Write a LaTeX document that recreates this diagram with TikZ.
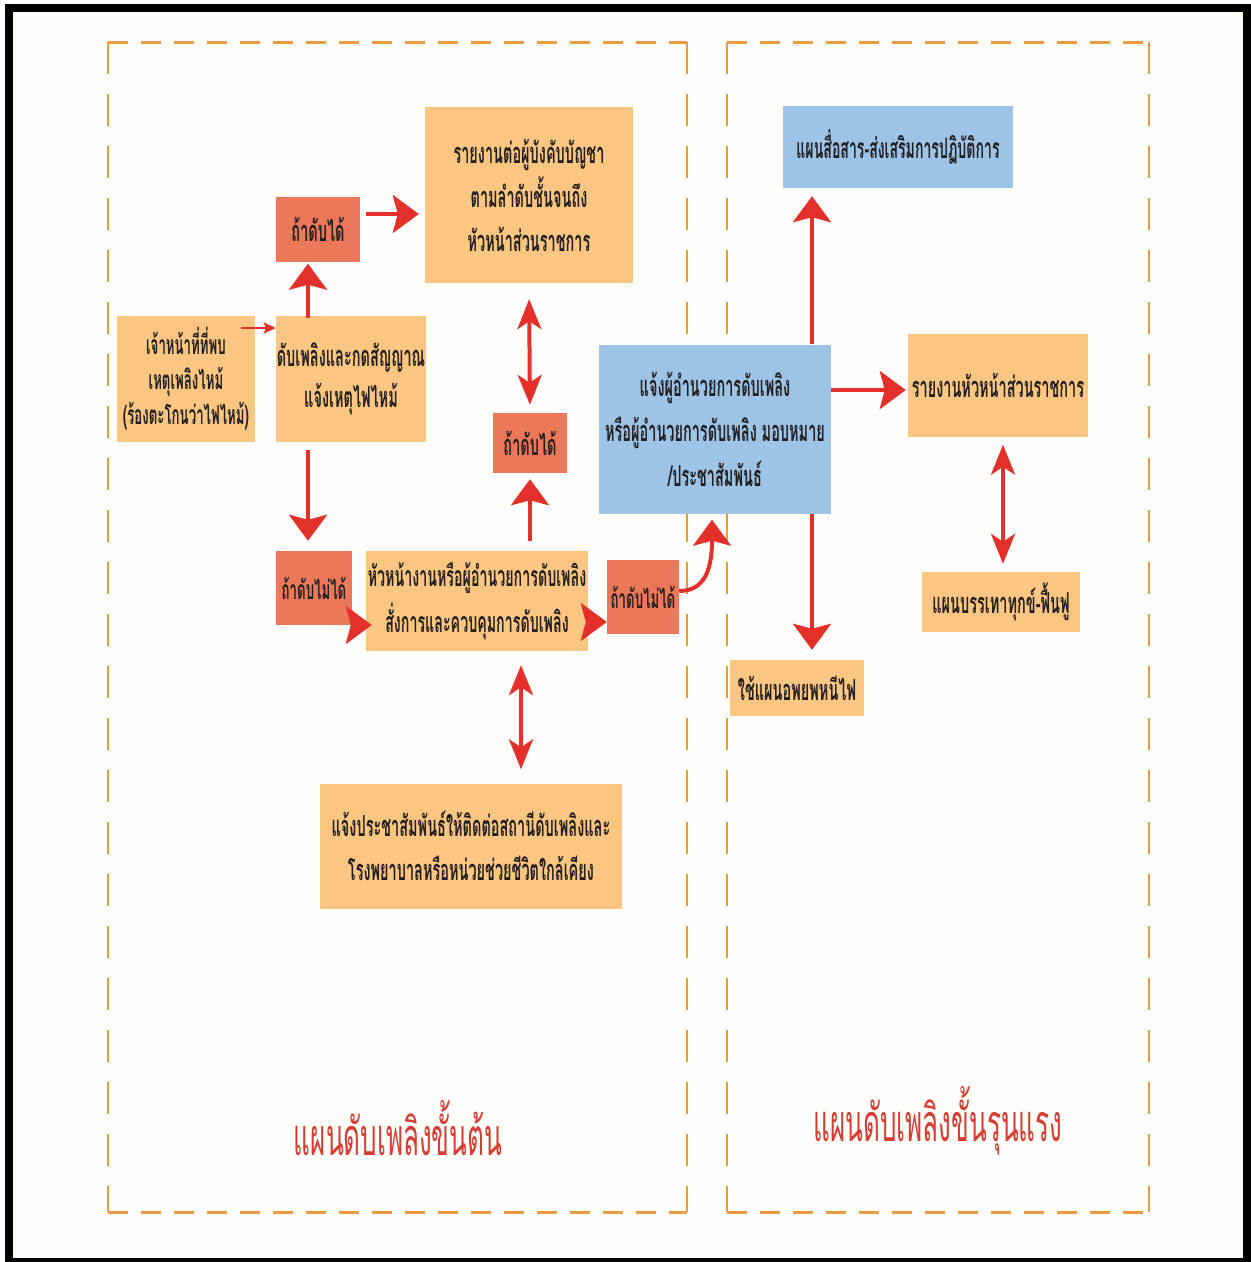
\documentclass[tikz,border=0pt]{standalone}
\usepackage{fontspec}
\newfontfamily\thai[Script=Thai,FakeStretch=0.5]{Loma}
\newcommand{\tf}[2]{\thai\bfseries\fontsize{#1}{#2}\selectfont}
\usetikzlibrary{arrows.meta}
\definecolor{boxor}{HTML}{FBC681}
\definecolor{boxred}{HTML}{EC785A}
\definecolor{boxblue}{HTML}{9DC3E6}
\definecolor{arrred}{HTML}{E3302A}
\definecolor{dashor}{HTML}{E99A43}
\definecolor{titred}{HTML}{D63C32}
\definecolor{txt}{HTML}{231F20}
\definecolor{paper}{HTML}{FFFEFA}
\tikzset{
  bx/.style={fill=boxor, inner sep=0pt, align=center, text=txt,
    font=\tf{29}{44}},
  rbx/.style={bx, fill=boxred},
  bbx/.style={bx, fill=boxblue},
  arr/.style={draw=arrred, line width=4pt,
    -{Stealth[length=26pt, width=38pt, inset=5pt]}},
  darr/.style={draw=arrred, line width=4pt,
    {Stealth[length=30pt, width=24pt, inset=8pt]}-{Stealth[length=30pt, width=24pt, inset=8pt]}},
  tarr/.style={draw=arrred, line width=2pt,
    -{Stealth[length=12pt, width=11pt, inset=2pt]}},
  hdash/.style={draw=dashor, line width=3pt, dash pattern=on 20pt off 13pt},
  vdash/.style={draw=dashor, line width=2.5pt, dash pattern=on 32pt off 20pt},
  title/.style={text=titred, font=\thai\fontsize{52}{58}\selectfont}
}
\begin{document}
\begin{tikzpicture}[x=1pt,y=-1pt]
\useasboundingbox (0,0) rectangle (1251,1262);
\fill[white] (0,0) rectangle (1251,1262);
\fill[black] (5,4) rectangle (1251,1262);
\fill[paper] (13,12) rectangle (1243,1258);

% dashed frames
\draw[hdash] (108,42) -- (687,42);
\draw[hdash] (108,1212) -- (687,1212);
\draw[vdash] (108,42) -- (108,1212);
\draw[vdash] (687,42) -- (687,1212);
\draw[hdash] (727,42) -- (1149,42);
\draw[hdash] (727,1212) -- (1149,1212);
\draw[vdash] (727,42) -- (727,1212);
\draw[vdash] (1149,42) -- (1149,1212);

% nodes
\node[bx, minimum width=138pt, minimum height=126pt, font=\tf{26.5}{35}] (A) at (186,379)
  {เจ้าหน้าที่ที่พบ\\เหตุเพลิงไหม้\\(ร้องตะโกนว่าไฟไหม้)};
\node[bx, minimum width=150pt, minimum height=126pt, font=\tf{29}{41}] (B) at (351,379)
  {ดับเพลิงและกดสัญญาณ\\แจ้งเหตุไฟไหม้};
\node[rbx, minimum width=84pt, minimum height=65pt] (C) at (318,229) {ถ้าดับได้};
\node[bx, minimum width=208pt, minimum height=176pt] (D) at (529,195)
  {รายงานต่อผู้บังคับบัญชา\\ตามลำดับชั้นจนถึง\\หัวหน้าส่วนราชการ};
\node[rbx, minimum width=74pt, minimum height=60pt] (E) at (530,443) {ถ้าดับได้};
\node[rbx, minimum width=76pt, minimum height=74pt, font=\tf{26.5}{40}] (F) at (314,588) {ถ้าดับไม่ได้};
\node[bx, minimum width=222pt, minimum height=100pt, font=\tf{28.5}{46}] (G) at (477,601)
  {หัวหน้างานหรือผู้อำนวยการดับเพลิง\\สั่งการและควบคุมการดับเพลิง};
\node[rbx, minimum width=72pt, minimum height=74pt, font=\tf{26.5}{40}] (H) at (643,597) {ถ้าดับไม่ได้};
\node[bx, minimum width=302pt, minimum height=125pt] (I) at (471,846)
  {แจ้งประชาสัมพันธ์ให้ติดต่อสถานีดับเพลิงและ\\โรงพยาบาลหรือหน่วยช่วยชีวิตใกล้เคียง};
\node[bbx, minimum width=232pt, minimum height=169pt, font=\tf{29}{45}] (J) at (715,429)
  {แจ้งผู้อำนวยการดับเพลิง\\หรือผู้อำนวยการดับเพลิง มอบหมาย\\/ประชาสัมพันธ์};
\node[bbx, minimum width=230pt, minimum height=82pt, font=\tf{28.2}{44}] (K) at (898,147) {แผนสื่อสาร-ส่งเสริมการปฏิบัติการ};
\node[bx, minimum width=180pt, minimum height=103pt] (L) at (998,385) {รายงานหัวหน้าส่วนราชการ};
\node[bx, minimum width=158pt, minimum height=60pt] (M) at (1001,602) {แผนบรรเทาทุกข์-ฟื้นฟู};
\node[bx, minimum width=134pt, minimum height=56pt] (N) at (797,688) {ใช้แผนอพยพหนีไฟ};

\node[title] (T1) at (398,1128) {แผนดับเพลิงขั้นต้น};
\node[title] (T2) at (938,1121) {แผนดับเพลิงขั้นรุนแรง};

% helper coordinates
\coordinate (ay) at (0,328);
\coordinate (bx) at (308,0);
\coordinate (cy) at (0,214);
\coordinate (fy) at (0,625);
\coordinate (gy) at (0,622);
\coordinate (gx) at (521,0);
\coordinate (jx) at (812,0);
\coordinate (jy) at (0,390);
\coordinate (lx) at (1003,0);

% connectors
\draw[tarr] ([xshift=-14pt]A.east |- ay) -- (B.west |- ay);
\draw[arr] ([yshift=-2pt]B.north -| bx) -- ([yshift=-2pt]C.south -| bx);
\draw[arr, shorten <=6pt] (C.east |- cy) -- ([xshift=-6pt]D.west |- cy);
\draw[darr, shorten <=16pt, shorten >=8pt] (D.south) -- (E.north);
\draw[arr, shorten <=8pt, shorten >=10pt] (B.south -| bx) -- (F.north -| bx);
\draw[arr, shorten >=2pt] (F.east |- fy) -- ([xshift=8pt]G.west |- fy);
\draw[arr, shorten <=10pt, shorten >=6pt] (G.north -| E.south) -- (E.south);
\draw[arr] (G.east |- gy) -- (H.west |- gy);
\draw[arr] ([yshift=6pt]H.east) .. controls +(28,0) and +(0,45) .. ([xshift=-3pt,yshift=-6pt]J.south);
\draw[darr, shorten <=14pt, shorten >=14pt] (G.south -| gx) -- (I.north -| gx);
\draw[arr, shorten >=8pt] (J.north -| jx) -- (K.south -| jx);
\draw[arr, shorten >=2pt] (J.east |- jy) -- (L.west |- jy);
\draw[arr, shorten >=10pt] (J.south -| jx) -- (N.north -| jx);
\draw[darr, shorten <=8pt, shorten >=8pt] (L.south -| lx) -- (M.north -| lx);
\end{tikzpicture}
\end{document}
